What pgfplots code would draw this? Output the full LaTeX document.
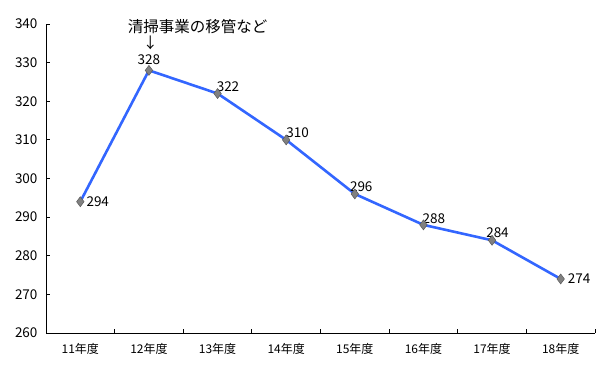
\documentclass[border=0pt]{standalone}
\usepackage{fontspec}
\setmainfont{Noto Sans CJK JP}
\usepackage{pgfplots}
\pgfplotsset{compat=1.18}
\definecolor{lineblue}{HTML}{3366FF}
\definecolor{mkgray}{HTML}{808080}
\begin{document}
\begin{tikzpicture}
\path[use as bounding box] (0,0) rectangle (600bp,365bp);
\begin{axis}[
  at={(46bp,32bp)}, anchor=south west,
  scale only axis, width=549bp, height=309bp,
  xmin=-0.5, xmax=7.5, ymin=260, ymax=340,
  axis x line*=bottom, axis y line*=left,
  axis line style={black, line width=1pt},
  xtick={0,...,7},
  xticklabels={11年度,12年度,13年度,14年度,15年度,16年度,17年度,18年度},
  major x tick style={draw=none},
  minor xtick={-0.5,0.5,...,7.5},
  minor tick length=4bp,
  ytick={260,270,...,340},
  tick align=inside,
  major tick length=4bp,
  tick style={black, line width=0.8pt},
  /pgf/number format/assume math mode=true,
  yticklabel style={font=\fontsize{13.5bp}{15bp}\selectfont, xshift=-5bp},
  xticklabel style={font=\fontsize{12bp}{13bp}\selectfont, yshift=-7bp},
  clip=false,
]
\addplot[lineblue, line width=2.6bp, mark=diamond*, mark size=5bp,
  mark options={fill=mkgray, draw=mkgray!70!black, line width=0.5pt}]
  coordinates {(0,294) (1,328) (2,322) (3,310) (4,296) (5,288) (6,284) (7,274)};
\tikzset{lbl/.style={font=\fontsize{13.5bp}{15bp}\selectfont, inner sep=1bp}}
\node[lbl, anchor=west] at (axis cs:0,294) [xshift=5bp] {294};
\node[lbl, anchor=south] at (axis cs:1,328) [yshift=4bp] {328};
\node[lbl, anchor=south west] at (axis cs:2,322) [xshift=-2bp,yshift=1bp] {322};
\node[lbl, anchor=south west] at (axis cs:3,310) [xshift=-1bp,yshift=1bp] {310};
\node[lbl, anchor=south west] at (axis cs:4,296) [xshift=-6bp,yshift=1bp] {296};
\node[lbl, anchor=south west] at (axis cs:5,288) [xshift=-2bp,yshift=0bp] {288};
\node[lbl, anchor=south west] at (axis cs:6,284) [xshift=-7bp,yshift=1bp] {284};
\node[lbl, anchor=west] at (axis cs:7,274) [xshift=6bp] {274};
\node[font=\fontsize{15.5bp}{17bp}\selectfont, inner sep=0pt] at (axis cs:1.71,339.3) {清掃事業の移管など};
\node[font=\fontsize{15bp}{16bp}\selectfont, inner sep=0pt] at (axis cs:1.02,335.0) {↓};
\end{axis}
\end{tikzpicture}
\end{document}
